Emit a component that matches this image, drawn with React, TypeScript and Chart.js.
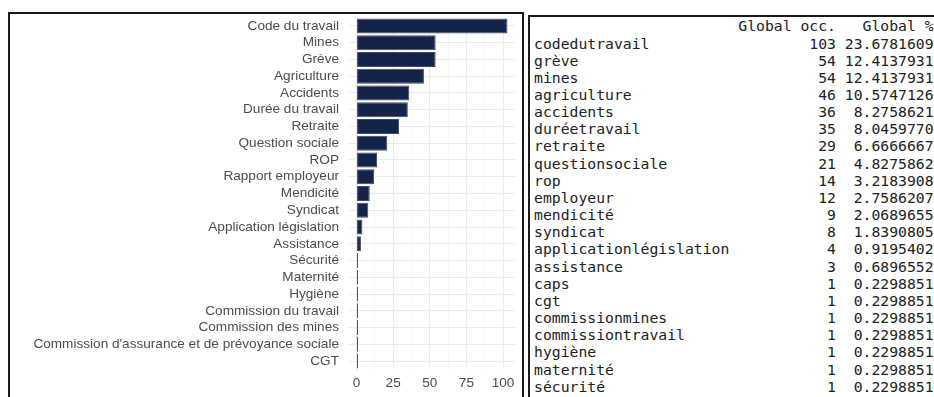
import React, { useEffect, useRef } from "react";
import { Chart, registerables } from "chart.js";

Chart.register(...registerables);

const categories = [
  "Code du travail",
  "Mines",
  "Grève",
  "Agriculture",
  "Accidents",
  "Durée du travail",
  "Retraite",
  "Question sociale",
  "ROP",
  "Rapport employeur",
  "Mendicité",
  "Syndicat",
  "Application législation",
  "Assistance",
  "Sécurité",
  "Maternité",
  "Hygiène",
  "Commission du travail",
  "Commission des mines",
  "Commission d'assurance et de prévoyance sociale",
  "CGT",
];
const occurrences = [103, 54, 54, 46, 36, 35, 29, 21, 14, 12, 9, 8, 4, 3, 1, 1, 1, 1, 1, 1, 1];
const xTicks = [0, 25, 50, 75, 100];

const tableNames = [
  "codedutravail",
  "grève",
  "mines",
  "agriculture",
  "accidents",
  "duréetravail",
  "retraite",
  "questionsociale",
  "rop",
  "employeur",
  "mendicité",
  "syndicat",
  "applicationlégislation",
  "assistance",
  "caps",
  "cgt",
  "commissionmines",
  "commissiontravail",
  "hygiène",
  "maternité",
  "sécurité",
];
const tableOcc = [103, 54, 54, 46, 36, 35, 29, 21, 14, 12, 9, 8, 4, 3, 1, 1, 1, 1, 1, 1, 1];
const tablePct = [
  "23.6781609",
  "12.4137931",
  "12.4137931",
  "10.5747126",
  "8.2758621",
  "8.0459770",
  "6.6666667",
  "4.8275862",
  "3.2183908",
  "2.7586207",
  "2.0689655",
  "1.8390805",
  "0.9195402",
  "0.6896552",
  "0.2298851",
  "0.2298851",
  "0.2298851",
  "0.2298851",
  "0.2298851",
  "0.2298851",
  "0.2298851",
];
const headerOcc = "Global occ.";
const headerPct = "Global %";

function BarChart() {
  const ref = useRef<HTMLCanvasElement | null>(null);
  useEffect(() => {
    const canvas = ref.current!;
    const dataMax = Math.max(...occurrences);
    const pad = dataMax * 0.05;
    const gridTicks: number[] = [];
    for (let i = 0; i < xTicks.length; i++) {
      gridTicks.push(xTicks[i]);
      if (i < xTicks.length - 1) gridTicks.push((xTicks[i] + xTicks[i + 1]) / 2);
    }
    const chart = new Chart(canvas, {
      type: "bar",
      data: {
        labels: categories,
        datasets: [
          {
            data: occurrences,
            backgroundColor: "#13234a",
            borderColor: "#404b69",
            borderWidth: 1,
            borderSkipped: false,
            barPercentage: 0.9,
            categoryPercentage: 1,
          },
        ],
      },
      options: {
        indexAxis: "y",
        responsive: false,
        animation: false,
        devicePixelRatio: 1,
        layout: { padding: { top: 3.6, right: 7, bottom: 0, left: 0 } },
        plugins: { legend: { display: false }, tooltip: { enabled: false } },
        scales: {
          x: {
            type: "linear",
            min: -pad,
            max: dataMax + pad,
            afterBuildTicks: (s: any) => {
              s.ticks = gridTicks.map((v) => ({ value: v }));
            },
            afterFit: (s: any) => {
              s.height = 30.6;
              s.paddingLeft = 0;
              s.paddingRight = 0;
            },
            grid: {
              color: (c: any) => (c.tick && c.tick.value % 25 === 0 ? "#ebebeb" : "#f4f4f4"),
              lineWidth: (c: any) => (c.tick && c.tick.value % 25 === 0 ? 1 : 0.8),
              drawTicks: false,
            },
            border: { display: false },
            ticks: {
              autoSkip: false,
              maxRotation: 0,
              padding: 6,
              color: "#4d4d4d",
              font: { family: "Liberation Sans", size: 13.6 },
              callback: (v: any) => (Number(v) % 25 === 0 ? String(v) : ""),
            },
          },
          y: {
            type: "category",
            offset: true,
            afterFit: (s: any) => {
              s.width = 339;
              s.paddingTop = 0;
              s.paddingBottom = 0;
            },
            grid: { color: "#ebebeb", lineWidth: 1, offset: false, drawTicks: false },
            border: { display: false },
            ticks: {
              autoSkip: false,
              padding: 10,
              color: "#4d4d4d",
              font: { family: "Liberation Sans", size: 13.6 },
            },
          },
        },
      },
    } as any);
    return () => chart.destroy();
  }, []);
  return <canvas ref={ref} width={512} height={386} style={{ display: "block" }} />;
}

function Table() {
  const lines: string[] = [];
  const nameW = Math.max(...tableNames.map((n) => n.length));
  lines.push(" ".repeat(nameW) + " " + headerOcc.padStart(11) + " " + headerPct.padStart(10));
  for (let i = 0; i < tableNames.length; i++) {
    lines.push(
      tableNames[i].padEnd(nameW) + " " + String(tableOcc[i]).padStart(11) + " " + tablePct[i].padStart(10)
    );
  }
  return (
    <pre
      style={{
        margin: 0,
        padding: "0.4px 0 0 4px",
        fontFamily: "'DejaVu Sans Mono', monospace",
        fontSize: "14.76px",
        lineHeight: "17.15px",
        color: "#222",
        whiteSpace: "pre",
      }}
    >
      {lines.join("\n")}
    </pre>
  );
}

export default function App() {
  return (
    <div
      style={{
        position: "absolute",
        left: 0,
        top: 0,
        width: 934,
        height: 397,
        overflow: "hidden",
        background: "#fff",
      }}
    >
      <div
        style={{
          position: "absolute",
          left: 8,
          top: 12,
          width: 516,
          height: 420,
          border: "2px solid #1a1a1a",
          boxSizing: "border-box",
          background: "#fff",
        }}
      >
        <BarChart />
      </div>
      <div
        style={{
          position: "absolute",
          left: 528,
          top: 15,
          width: 420,
          height: 420,
          borderTop: "2px solid #1a1a1a",
          borderLeft: "2px solid #1a1a1a",
          boxSizing: "border-box",
          overflow: "hidden",
          background: "#fff",
        }}
      >
        <Table />
      </div>
    </div>
  );
}
